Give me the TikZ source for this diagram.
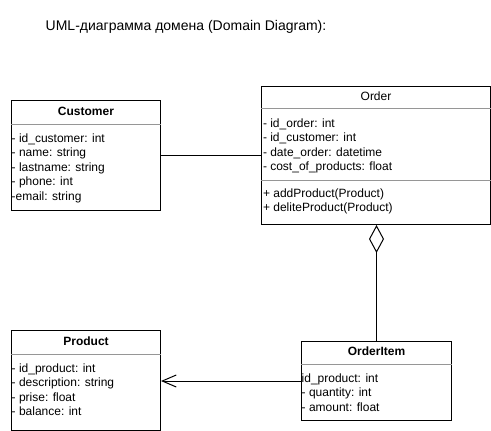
\documentclass[tikz,border=0pt]{standalone}
\usepackage{fontspec}
\setmainfont{Liberation Sans}
\usetikzlibrary{arrows.meta}
\definecolor{sepgray}{RGB}{150,150,150}
\tikzset{
  box/.style={draw=black, line width=1pt, inner sep=0pt, anchor=north west},
  sep/.style={draw=sepgray, line width=1pt},
  attr/.style={anchor=base west, inner sep=0pt, font=\fontsize{12}{14.5}\selectfont},
  ttl/.style={anchor=base, inner sep=0pt, font=\fontsize{12}{14.5}\selectfont\bfseries},
  ttlr/.style={anchor=base, inner sep=0pt, font=\fontsize{12}{14.5}\selectfont},
  conn/.style={draw=black, line width=1pt}
}
\begin{document}
\begin{tikzpicture}[x=1pt,y=-1pt]
\useasboundingbox (0,0) rectangle (491,431);
\node[anchor=base west, inner sep=0pt, font=\fontsize{14}{16}\selectfont] (title) at (45.5,30.7) {UML-диаграмма домена (Domain Diagram):};

% Customer
\node[box, minimum width=149pt, minimum height=110pt] (cust) at (11,100) {};
\draw[sep] ([yshift=-24pt]cust.north west) -- ([yshift=-24pt]cust.north east);
\node[ttl] (custT) at ([yshift=-15.3pt]cust.north) {Customer};
\node[attr] (c1) at (11.5,142.3) {- id\_customer: int};
\node[attr] (c2) at (11.5,156.8) {- name: string};
\node[attr] (c3) at (11.5,171.3) {- lastname: string};
\node[attr] (c4) at (11.5,185.8) {- phone: int};
\node[attr] (c5) at (11.5,200.3) {-email: string};

% Order
\node[box, minimum width=229pt, minimum height=138pt] (ord) at (261,86) {};
\draw[sep] ([yshift=-22pt]ord.north west) -- ([yshift=-22pt]ord.north east);
\draw[sep] ([yshift=-94pt]ord.north west) -- ([yshift=-94pt]ord.north east);
\node[ttlr] (ordT) at ([yshift=-14.3pt]ord.north) {Order};
\node[attr] (o1) at (262.8,127.3) {- id\_order: int};
\node[attr] (o2) at (262.8,141.8) {- id\_customer: int};
\node[attr] (o3) at (262.8,156.3) {- date\_order: datetime};
\node[attr] (o4) at (262.8,170.8) {- cost\_of\_products: float};
\node[attr] (o5) at (262.8,197) {+ addProduct(Product)};
\node[attr] (o6) at (262.8,211.5) {+ deliteProduct(Product)};

% Product
\node[box, minimum width=149pt, minimum height=100pt] (prod) at (11,330) {};
\draw[sep] ([yshift=-24pt]prod.north west) -- ([yshift=-24pt]prod.north east);
\node[ttl] (prodT) at ([yshift=-15pt]prod.north) {Product};
\node[attr] (p1) at (11.5,372.3) {- id\_product: int};
\node[attr] (p2) at (11.5,386.8) {- description: string};
\node[attr] (p3) at (11.5,401.3) {- prise: float};
\node[attr] (p4) at (11.5,415.8) {- balance: int};

% OrderItem
\node[box, minimum width=150pt, minimum height=79pt] (oi) at (301,341) {};
\draw[sep] ([yshift=-23pt]oi.north west) -- ([yshift=-23pt]oi.north east);
\node[ttl] (oiT) at ([yshift=-14.3pt]oi.north) {OrderItem};
\node[attr] (i1) at (301.5,382.3) {id\_product: int};
\node[attr] (i2) at (301.5,396.8) {- quantity: int};
\node[attr] (i3) at (301.5,411.3) {- amount: float};

% connectors
\draw[conn] (cust.east) -- (cust.east -| ord.west);
\draw[conn, -{Diamond[open, length=28pt, width=15pt, line width=1pt]}] (oi.north) -- (oi.north |- ord.south);
\draw[conn, -{Straight Barb[length=14pt, width=12pt, line width=1pt]}] (oi.west) -- (oi.west -| prod.east);
\end{tikzpicture}
\end{document}
